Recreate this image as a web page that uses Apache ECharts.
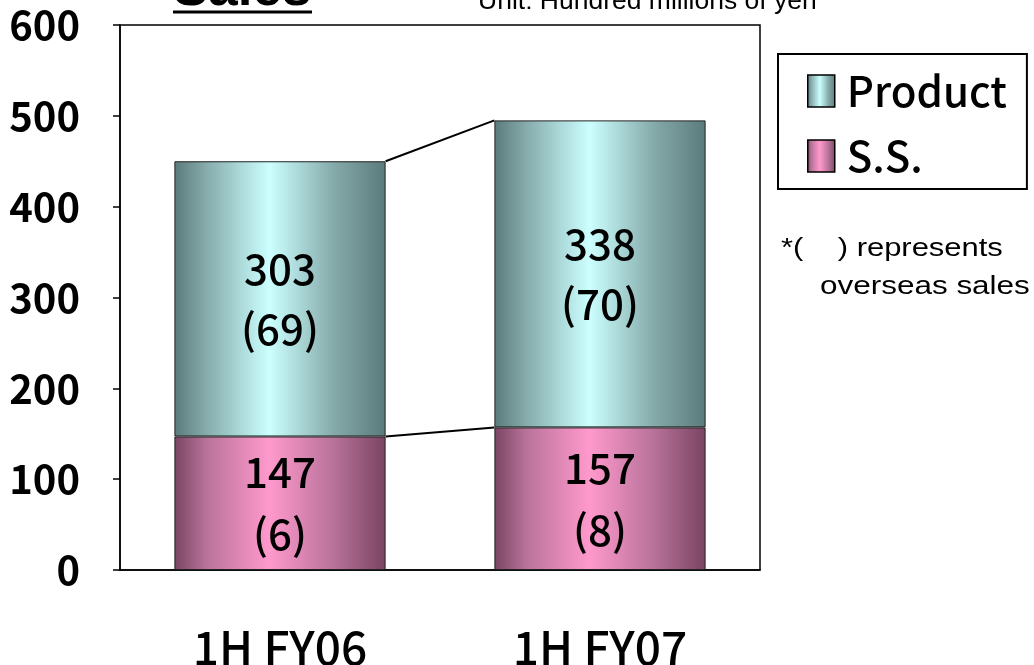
<!DOCTYPE html>
<html><head><meta charset="utf-8">
<script src="https://cdn.jsdelivr.net/npm/echarts@6/dist/echarts.min.js"></script>
<style>html,body{margin:0;padding:0;background:#fff}#c{width:1034px;height:665px}</style>
</head><body><div id="c"></div>
<script>
var categories = ['1H FY06', '1H FY07'];
var productValues = [303, 338];
var ssValues = [147, 157];
var productOverseas = [69, 70];
var ssOverseas = [6, 8];
var yTicks = [0, 100, 200, 300, 400, 500, 600];

var JP = '"Noto Sans CJK JP", "Noto Sans", sans-serif';
var AR = '"Liberation Sans", Arial, sans-serif';

function grad(edge, mid, center) {
  return {type: 'linear', x: 0, y: 0, x2: 1, y2: 0, colorStops: [
    {offset: 0, color: edge}, {offset: 0.15, color: mid}, {offset: 0.45, color: center},
    {offset: 0.75, color: mid}, {offset: 1, color: edge}]};
}
var productColor = grad('#5b7b7b', '#86abab', '#ccffff');
var ssColor = grad('#7a4462', '#b8739a', '#ff99cc');

var totals = productValues.map(function (v, i) { return v + ssValues[i]; });
var connectors = [];
for (var i = 0; i < categories.length - 1; i++) {
  connectors.push([i, totals[i], i + 1, totals[i + 1]]);
  connectors.push([i, ssValues[i], i + 1, ssValues[i + 1]]);
}
var BAR_RATIO = 0.66;

var chart = echarts.init(document.getElementById('c'));
chart.setOption({
  animation: false,
  grid: {left: 120, right: 274, top: 25, bottom: 95, show: true, borderColor: '#000', borderWidth: 1.5,
    backgroundColor: 'transparent', containLabel: false, outerBoundsMode: 'none'},
  legend: {
    data: ['Product', 'S.S.'], orient: 'vertical', left: 778, top: 54,
    padding: [16, 20, 12, 29], itemGap: 23, itemWidth: 27, itemHeight: 32,
    borderColor: '#000', borderWidth: 2, icon: 'rect',
    itemStyle: {borderColor: '#000', borderWidth: 1.5},
    textStyle: {fontFamily: JP, fontSize: 42, fontWeight: 500, color: '#000', padding: [0, 0, 0, 7]}
  },
  xAxis: {
    type: 'category', data: categories,
    axisLine: {lineStyle: {color: '#000', width: 1.5}},
    axisTick: {inside: true, length: 18, lineStyle: {color: '#000', width: 1.5}},
    axisLabel: {fontFamily: JP, fontSize: 46, fontWeight: 500, color: '#000', margin: 55}
  },
  yAxis: {
    type: 'value', min: 0, max: 600, interval: 100,
    axisLine: {show: true, lineStyle: {color: '#000', width: 1.5}},
    axisTick: {show: true, length: 7, lineStyle: {color: '#000', width: 1.5}},
    splitLine: {show: false},
    axisLabel: {fontFamily: JP, fontSize: 40, fontWeight: 'bold', color: '#000', margin: 40,
      formatter: function (v) { return yTicks.indexOf(v) >= 0 ? String(v) : ''; }}
  },
  series: [
    {name: 'S.S.', type: 'bar', stack: 's', barWidth: (BAR_RATIO * 100) + '%', data: ssValues,
      itemStyle: {color: ssColor, borderColor: '#222', borderWidth: 1},
      label: {show: true, position: 'inside', fontFamily: JP, fontSize: 42, fontWeight: 500, color: '#000', lineHeight: 62,
        formatter: function (p) { return p.value + '\n(' + ssOverseas[p.dataIndex] + ')'; }}},
    {name: 'Product', type: 'bar', stack: 's', barWidth: (BAR_RATIO * 100) + '%', data: productValues,
      itemStyle: {color: productColor, borderColor: '#222', borderWidth: 1},
      label: {show: true, position: 'inside', fontFamily: JP, fontSize: 42, fontWeight: 500, color: '#000', lineHeight: 60,
        formatter: function (p) { return p.value + '\n(' + productOverseas[p.dataIndex] + ')'; }}},
    {name: 'conn', type: 'custom', silent: true, z: 5, data: connectors,
      renderItem: function (params, api) {
        var a = api.coord([api.value(0), api.value(1)]);
        var b = api.coord([api.value(2), api.value(3)]);
        var half = api.size([1, 0])[0] * BAR_RATIO / 2;
        return {type: 'line', shape: {x1: a[0] + half, y1: a[1], x2: b[0] - half, y2: b[1]},
          style: {stroke: '#000', lineWidth: 2}};
      }}
  ],
  graphic: [
    {type: 'text', x: 173, y: -36, style: {text: 'Sales', font: 'bold 53px ' + AR, fill: '#000'}},
    {type: 'line', shape: {x1: 173, y1: 12, x2: 312, y2: 12}, style: {stroke: '#000', lineWidth: 3}},
    {type: 'text', x: 478, y: -10, scaleX: 1.06, style: {text: 'Unit: Hundred millions of yen', font: '25px ' + AR, fill: '#000'}},
    {type: 'text', x: 781, y: 236, scaleX: 1.19, style: {text: '*(    ) represents', font: '26px ' + AR, fill: '#000'}},
    {type: 'text', x: 820, y: 274, scaleX: 1.21, style: {text: 'overseas sales', font: '26px ' + AR, fill: '#000'}}
  ]
});
</script></body></html>
